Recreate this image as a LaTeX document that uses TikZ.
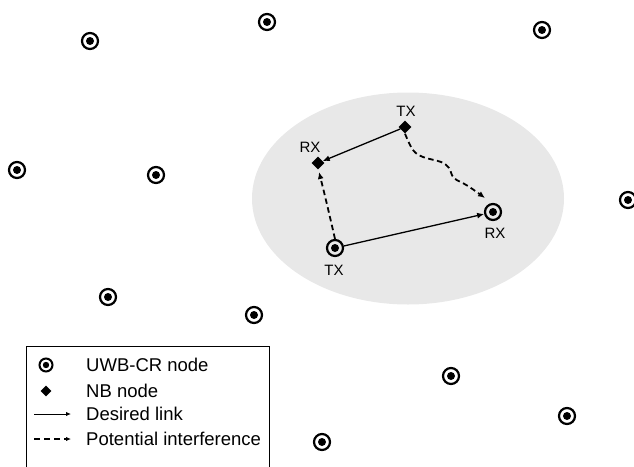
\documentclass[tikz,border=0pt]{standalone}
\usepackage{fontspec}
\setmainfont{Liberation Sans}
\usetikzlibrary{arrows.meta,shapes.geometric}
\definecolor{zone}{HTML}{E8E8E8}
\tikzset{
  uwb/.style={circle, draw, line width=2.2pt, minimum size=16pt, inner sep=0pt,
    path picture={\fill (path picture bounding box.center) circle (4pt);}},
  uwbsmall/.style={circle, draw, line width=2pt, minimum size=13pt, inner sep=0pt,
    path picture={\fill (path picture bounding box.center) circle (3.2pt);}},
  nb/.style={diamond, fill, inner sep=0pt, minimum size=13pt},
  nbsmall/.style={diamond, fill, inner sep=0pt, minimum size=11pt},
  lbl/.style={font=\fontsize{15}{17}\selectfont, inner sep=0pt},
  legtext/.style={font=\fontsize{18.5}{20}\selectfont, anchor=west, inner sep=0pt},
  desired/.style={line width=1.3pt, -{Latex[length=7pt,width=6pt]}},
  interf/.style={line width=1.8pt, dash pattern=on 5.5pt off 3.5pt, -{Latex[length=7pt,width=6pt]}},
}
\begin{document}
\begin{tikzpicture}[x=1pt,y=-1pt]
\useasboundingbox (0,0) rectangle (634,466);
\fill[zone] (408,198.5) ellipse [x radius=156, y radius=106];
% UWB-CR nodes
\node[uwb] (u1) at (90,41) {};
\node[uwb] (u2) at (267,22) {};
\node[uwb] (u3) at (542,30) {};
\node[uwb] (u4) at (17,170) {};
\node[uwb] (u5) at (156,175) {};
\node[uwb] (u6) at (628,200) {};
\node[uwb] (utx) at (335,248) {};
\node[uwb] (urx) at (493,212) {};
\node[uwb] (u7) at (108,297) {};
\node[uwb] (u8) at (254,315) {};
\node[uwb] (u9) at (451,376) {};
\node[uwb] (u10) at (567,416) {};
\node[uwb] (u11) at (322,442) {};
% NB nodes
\node[nb] (ntx) at (405,127) {};
\node[nb] (nrx) at (318,163) {};
% labels
\node[lbl] (ltx1) at (406,111.5) {TX};
\node[lbl] (lrx1) at (310,147.5) {RX};
\node[lbl] (ltx2) at (334,270) {TX};
\node[lbl] (lrx2) at (495,233) {RX};
% links
\draw[desired] (ntx) -- (nrx);
\draw[desired] (utx) -- (urx);
\draw[interf] plot[smooth, tension=0.6] coordinates {(ntx.south) (413,150) (423,157) (441,162) (449,168) (454,178) (468,186) (485,198)};
\draw[interf] plot[smooth, tension=0.6] coordinates {(utx.north) (329,213) (324,192) (319,172)};
% legend
\draw[line width=0.8pt] (26,470) -- (26,346) -- (269,346) -- (269,470);
\node[uwbsmall] (lg1) at (46,365) {};
\node[legtext] (lt1) at (86,365) {UWB-CR node};
\node[nbsmall] (lg2) at (46,391) {};
\node[legtext] (lt2) at (86,391) {NB node};
\coordinate (la1) at (34,414);
\coordinate (lb1) at (71,414);
\draw[line width=1pt, -{Latex[length=5pt,width=4.5pt]}] (la1) -- (lb1);
\node[legtext] (lt3) at (86,414) {Desired link};
\coordinate (la2) at (34,439);
\coordinate (lb2) at (71,439);
\draw[line width=1.6pt, dash pattern=on 6pt off 4pt, -{Latex[length=5pt,width=4.5pt]}] (la2) -- (lb2);
\node[legtext] (lt4) at (86,439) {Potential interference};
\end{tikzpicture}
\end{document}
